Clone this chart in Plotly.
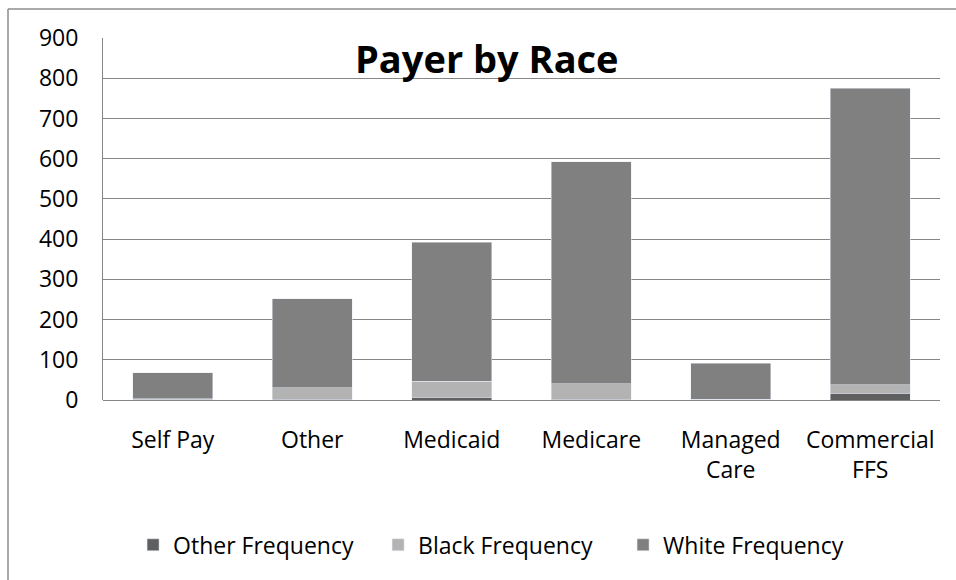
import plotly.graph_objects as go

# Payer categories and stacked race counts
categories = ["Self Pay", "Other", "Medicaid", "Medicare", "Managed<br>Care", "Commercial<br>FFS"]
other_freq = [1, 2, 7, 2, 1, 17]
black_freq = [2, 28, 40, 38, 1, 21]
white_freq = [65, 222, 345, 552, 89, 737]

y_ticks = list(range(0, 901, 100))

FONT = "'Open Sans', sans-serif"

fig = go.Figure()
fig.add_trace(go.Bar(name="Other Frequency", x=categories, y=other_freq, marker_color="#5f5f5f"))
fig.add_trace(go.Bar(name="Black Frequency", x=categories, y=black_freq, marker_color="#b3b3b3"))
fig.add_trace(go.Bar(name="White Frequency", x=categories, y=white_freq, marker_color="#808080"))

fig.update_layout(
    barmode="stack",
    bargap=0.43,
    width=956,
    height=580,
    margin=dict(l=103, r=16, t=38, b=180),
    paper_bgcolor="white",
    plot_bgcolor="white",
    font=dict(family=FONT, size=23, color="#000000"),
    showlegend=True,
    legend=dict(
        orientation="h",
        x=0.475, xanchor="center",
        y=-0.40, yanchor="middle",
        font=dict(size=23),
        traceorder="normal",
        itemwidth=30,
        entrywidth=200,
        entrywidthmode="pixels",
    ),
    annotations=[
        dict(
            text="<b>Payer by Race</b>",
            x=0.459, y=0.945, xref="paper", yref="paper",
            xanchor="center", yanchor="middle",
            showarrow=False,
            font=dict(size=38, family=FONT, color="#000000"),
        )
    ],
    shapes=[
        # outer chart frame
        dict(type="line", xref="paper", yref="paper",
             x0=-0.1135, x1=-0.1135, y0=1.08, y1=-0.5,
             line=dict(color="#8c8c8c", width=1.5)),
        dict(type="line", xref="paper", yref="paper",
             x0=-0.1135, x1=1.03, y0=1.08, y1=1.08,
             line=dict(color="#8c8c8c", width=1.5)),
    ],
)

fig.update_xaxes(
    showgrid=False,
    showline=False,
    ticks="",
    ticklabelstandoff=24,
    tickfont=dict(size=23),
)
fig.update_yaxes(
    range=[0, 900],
    tickvals=y_ticks,
    showgrid=True,
    gridcolor="#868686",
    gridwidth=1,
    showline=True,
    linecolor="#868686",
    linewidth=1,
    zeroline=True,
    zerolinecolor="#868686",
    zerolinewidth=1,
    ticks="",
    ticklabelstandoff=19,
    tickfont=dict(size=23),
)

fig.write_html("out.html")
